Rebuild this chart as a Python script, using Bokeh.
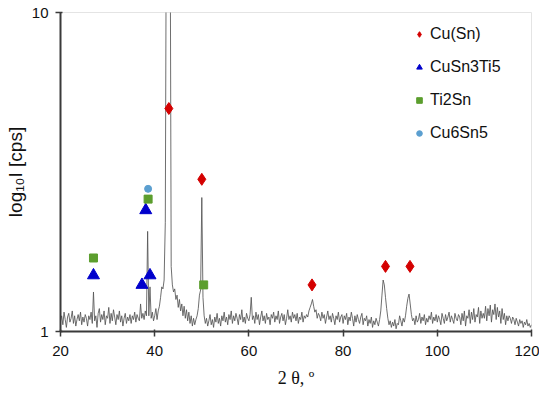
from bokeh.plotting import figure
from bokeh.models import Range1d, FixedTicker, Legend, LegendItem
from bokeh.embed import file_html
from bokeh.resources import INLINE

# ---- data -------------------------------------------------------------
two_theta_start = 20.0
two_theta_step = 0.25
intensity = [
    # 20-25
    1.08, 1.12, 1.05, 1.15, 1.09, 1.03, 1.11, 1.14, 1.07, 1.10, 1.16, 1.06, 1.12, 1.04, 1.09, 1.13, 1.08, 1.15, 1.05, 1.11,
    # 25-30
    1.07, 1.13, 1.10, 1.04, 1.12, 1.09, 1.15, 1.06, 1.33, 1.08, 1.12, 1.03, 1.14, 1.18, 1.07, 1.13, 1.09, 1.16, 1.05, 1.12,
    # 30-35
    1.10, 1.19, 1.06, 1.14, 1.08, 1.17, 1.11, 1.05, 1.13, 1.09, 1.16, 1.07, 1.12, 1.04, 1.10, 1.14, 1.06, 1.11, 1.08, 1.13,
    # 35-40
    1.06, 1.12, 1.09, 1.15, 1.07, 1.13, 1.10, 1.08, 1.22, 1.10, 1.14, 1.09, 1.16, 1.12, 2.06, 1.12, 1.38, 1.10, 1.15, 1.08,
    # 40-45
    1.12, 1.18, 1.09, 1.16, 1.20, 1.28, 1.38, 1.36, 1.45, 2.20, 30.0, 40.0, 40.0, 30.0, 1.60, 1.40, 1.33, 1.36, 1.26, 1.30,
    # 45-50
    1.19, 1.26, 1.16, 1.22, 1.12, 1.20, 1.10, 1.17, 1.08, 1.15, 1.06, 1.12, 1.04, 1.10, 1.05, 1.09, 1.12, 1.18, 1.30, 1.35,
    # 50-55
    2.63, 1.28, 1.12, 1.06, 1.10, 1.04, 1.08, 1.13, 1.05, 1.09, 1.03, 1.11, 1.07, 1.14, 1.06, 1.10, 1.04, 1.12, 1.08, 1.15,
    # 55-60
    1.07, 1.11, 1.05, 1.13, 1.09, 1.16, 1.06, 1.12, 1.08, 1.14, 1.10, 1.05, 1.13, 1.09, 1.17, 1.07, 1.11, 1.06, 1.14, 1.10,
    # 60-65
    1.08, 1.13, 1.28, 1.09, 1.12, 1.06, 1.15, 1.09, 1.13, 1.05, 1.11, 1.16, 1.08, 1.12, 1.06, 1.14, 1.09, 1.11, 1.05, 1.13,
    # 65-70
    1.10, 1.15, 1.07, 1.12, 1.09, 1.16, 1.06, 1.11, 1.14, 1.08, 1.13, 1.05, 1.10, 1.17, 1.09, 1.12, 1.07, 1.15, 1.10, 1.13,
    # 70-75
    1.08, 1.14, 1.06, 1.11, 1.09, 1.15, 1.07, 1.12, 1.10, 1.13, 1.11, 1.16, 1.19, 1.22, 1.26, 1.20, 1.15, 1.17, 1.10, 1.14,
    # 75-80
    1.12, 1.08, 1.15, 1.10, 1.13, 1.06, 1.11, 1.16, 1.09, 1.12, 1.07, 1.14, 1.10, 1.05, 1.12, 1.09, 1.15, 1.07, 1.11, 1.13,
    # 80-85
    1.06, 1.12, 1.09, 1.14, 1.05, 1.11, 1.08, 1.15, 1.10, 1.04, 1.12, 1.07, 1.13, 1.09, 1.06, 1.11, 1.14, 1.05, 1.10, 1.08,
    # 85-90
    1.12, 1.04, 1.09, 1.06, 1.11, 1.03, 1.08, 1.05, 1.10, 1.07, 1.04, 1.09, 1.16, 1.30, 1.45, 1.40, 1.28, 1.18, 1.10, 1.05,
    # 90-95
    1.08, 1.03, 1.07, 1.04, 1.09, 1.02, 1.06, 1.05, 1.12, 1.08, 1.04, 1.10, 1.07, 1.12, 1.20, 1.27, 1.31, 1.22, 1.13, 1.08,
    # 95-100
    1.10, 1.05, 1.12, 1.07, 1.09, 1.14, 1.06, 1.11, 1.08, 1.13, 1.05, 1.10, 1.07, 1.12, 1.09, 1.15, 1.06, 1.11, 1.08, 1.13,
    # 100-105
    1.07, 1.12, 1.09, 1.05, 1.14, 1.10, 1.06, 1.13, 1.08, 1.11, 1.15, 1.07, 1.12, 1.09, 1.06, 1.14, 1.10, 1.08, 1.13, 1.11,
    # 105-110
    1.05, 1.14, 1.08, 1.16, 1.04, 1.12, 1.10, 1.17, 1.06, 1.15, 1.09, 1.18, 1.07, 1.13, 1.11, 1.19, 1.06, 1.16, 1.10, 1.14,
    # 110-115
    1.10, 1.20, 1.08, 1.18, 1.12, 1.21, 1.07, 1.17, 1.13, 1.22, 1.09, 1.19, 1.11, 1.16, 1.06, 1.18, 1.09, 1.14, 1.05, 1.12,
    # 115-120
    1.08, 1.12, 1.10, 1.06, 1.11, 1.09, 1.05, 1.10, 1.07, 1.04, 1.09, 1.06, 1.08, 1.03, 1.07, 1.05, 1.09, 1.04, 1.06, 1.03,
    1.05,
]
two_theta = [two_theta_start + i * two_theta_step for i in range(len(intensity))]

cusn_x = [43.0, 50.0, 73.4, 89.0, 94.2]
cusn_y = [5.0, 3.0, 1.4, 1.6, 1.6]
cusn3ti5_x = [27.0, 37.3, 38.1, 39.0]
cusn3ti5_y = [1.5, 1.4, 2.4, 1.5]
ti2sn_x = [27.0, 38.6, 50.4]
ti2sn_y = [1.7, 2.6, 1.4]
cu6sn5_x = [38.6]
cu6sn5_y = [2.8]

x_ticks = [20, 40, 60, 80, 100, 120]
y_ticks = [1, 10]

FONT = "Liberation Sans"

# ---- figure -----------------------------------------------------------
p = figure(frame_width=471, frame_height=319, y_axis_type="log",
           x_range=Range1d(20, 120), y_range=Range1d(1, 10),
           output_backend="svg", toolbar_location=None,
           min_border_left=60, min_border_right=8,
           min_border_top=12, min_border_bottom=50)
p.xgrid.visible = False
p.ygrid.visible = False
p.outline_line_color = "#e4e4e4"
p.outline_line_width = 1
p.background_fill_color = "white"
p.border_fill_color = "white"

p.line(two_theta, intensity, line_color="#555555", line_width=0.85)

r1 = p.scatter(cusn_x, cusn_y, marker="diamond", size=12,
               fill_color="#d40000", line_color="#d40000")
r2 = p.scatter(cusn3ti5_x, cusn3ti5_y, marker="triangle", size=12,
               fill_color="#0000cc", line_color="#0000cc")
r3 = p.scatter(ti2sn_x, ti2sn_y, marker="square", size=8,
               fill_color="#5c9e2e", line_color="#5c9e2e")
r4 = p.scatter(cu6sn5_x, cu6sn5_y, marker="circle", size=7,
               fill_color="#5b9fd0", line_color="#5b9fd0")

legend = Legend(items=[
    LegendItem(label="Cu(Sn)", renderers=[r1]),
    LegendItem(label="CuSn3Ti5", renderers=[r2]),
    LegendItem(label="Ti2Sn", renderers=[r3]),
    LegendItem(label="Cu6Sn5", renderers=[r4]),
], location=(352, 188))
legend.border_line_color = None
legend.background_fill_alpha = 0
legend.padding = 0
legend.margin = 0
legend.spacing = 13
legend.glyph_height = 20
legend.glyph_width = 14
legend.label_height = 20
legend.label_standoff = 4
legend.label_text_font = FONT
legend.label_text_font_size = "16px"
legend.label_text_color = "#111111"
p.add_layout(legend, "center")

for ax in (p.xaxis[0], p.yaxis[0]):
    ax.axis_line_color = "#3a3a3a"
    ax.axis_line_width = 2
    ax.major_tick_line_color = "#3a3a3a"
    ax.major_tick_line_width = 1.5
    ax.major_tick_in = 2
    ax.major_tick_out = 5
    ax.minor_tick_line_color = None
    ax.major_label_text_font = FONT
    ax.major_label_text_font_size = "15px"
    ax.major_label_text_color = "#111111"

p.xaxis.ticker = FixedTicker(ticks=x_ticks)
p.yaxis.ticker = FixedTicker(ticks=y_ticks)
p.yaxis.major_label_overrides = {1: "1", 10: "10"}
p.xaxis.major_label_standoff = 9
p.yaxis.major_label_standoff = 7

p.xaxis.axis_label = "2 θ, º"
p.xaxis.axis_label_text_font = "Liberation Serif"
p.xaxis.axis_label_text_font_style = "normal"
p.xaxis.axis_label_text_font_size = "18px"
p.xaxis.axis_label_text_color = "#111111"
p.xaxis.axis_label_standoff = 9

p.yaxis.axis_label = "log₁₀I [cps]"
p.yaxis.axis_label_text_font = FONT
p.yaxis.axis_label_text_font_style = "normal"
p.yaxis.axis_label_text_font_size = "19px"
p.yaxis.axis_label_text_color = "#111111"
p.yaxis.axis_label_standoff = 3

open("out.html", "w").write(file_html(p, INLINE))
